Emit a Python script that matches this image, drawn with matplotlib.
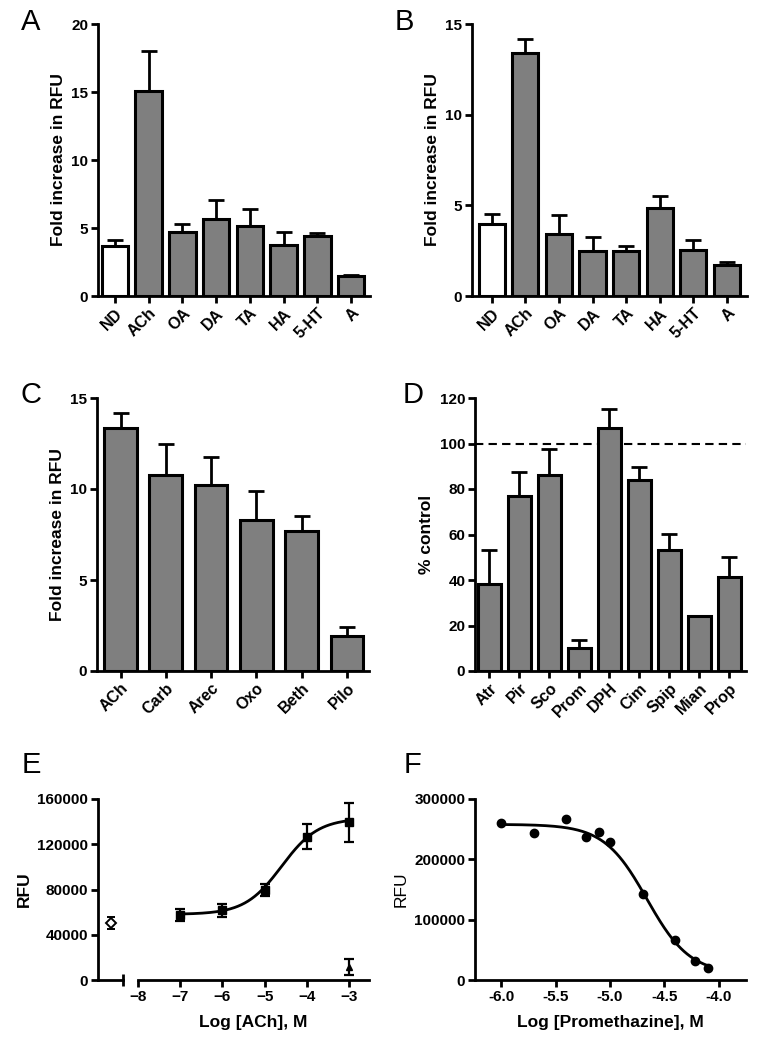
import numpy as np
import matplotlib
matplotlib.use("Agg")
import matplotlib.pyplot as plt

plt.rcParams["font.family"] = ["Liberation Sans", "DejaVu Sans"]
plt.rcParams["font.weight"] = "bold"
plt.rcParams["axes.linewidth"] = 2.0

# Panel A / B: agonist screen
amine_labels = ["ND", "ACh", "OA", "DA", "TA", "HA", "5-HT", "A"]
a_means = [3.68, 15.07, 4.71, 5.67, 5.13, 3.78, 4.44, 1.45]
a_errs = [0.47, 2.97, 0.57, 1.42, 1.25, 0.93, 0.17, 0.07]
b_means = [3.96, 13.42, 3.41, 2.48, 2.47, 4.84, 2.52, 1.69]
b_errs = [0.55, 0.75, 1.03, 0.78, 0.31, 0.68, 0.55, 0.17]

# Panel C: cholinergic agonists
agonist_labels = ["ACh", "Carb", "Arec", "Oxo", "Beth", "Pilo"]
c_means = [13.35, 10.78, 10.23, 8.27, 7.70, 1.94]
c_errs = [0.81, 1.67, 1.54, 1.63, 0.79, 0.48]

# Panel D: antagonists
antag_labels = ["Atr", "Pir", "Sco", "Prom", "DPH", "Cim", "Spip", "Mian", "Prop"]
d_means = [38.1, 77.0, 86.3, 10.3, 106.8, 84.1, 53.1, 24.2, 41.5]
d_errs = [15.0, 10.4, 11.4, 3.3, 8.2, 5.4, 7.3, 0.0, 8.7]

# Panel E: ACh dose response
e_logx = [-7, -6, -5, -4, -3]
e_rfu = [57400, 61600, 79900, 126700, 139400]
e_err = [5600, 5600, 5300, 11200, 17200]
e_tri_x = [-3]
e_tri_rfu = [11800]
e_tri_err = [7200]
e_nd_rfu = [50400]
e_nd_err = [5000]
e_fit = dict(bottom=58000, top=143000, logec50=-4.6, hill=1.0)

# Panel F: promethazine inhibition
f_logx = [-6.0, -5.7, -5.4, -5.22, -5.1, -5.0, -4.7, -4.4, -4.22, -4.1]
f_rfu = [259700, 244200, 266300, 237600, 245900, 228200, 142000, 66900, 30900, 19300]
f_fit = dict(bottom=10000, top=258000, logec50=-4.66, hill=-2.2)

W, H = 773, 1050
fig = plt.figure(figsize=(W / 100, H / 100), dpi=100)

TICK_FS = 11
LABEL_FS = 12.5


def px_axes(x0, x1, ytop, ybot):
    return fig.add_axes([x0 / W, 1 - ybot / H, (x1 - x0) / W, (ybot - ytop) / H])


def style(ax):
    for s in ["top", "right"]:
        ax.spines[s].set_visible(False)
    ax.tick_params(width=2.0, length=5, labelsize=TICK_FS, direction="out", pad=2)


def bar_panel(ax, labels, means, errs, ylim, yticks, xlim, width, ylabel, first_white=False):
    x = np.arange(len(labels))
    colors = ["#7f7f7f"] * len(labels)
    if first_white:
        colors[0] = "white"
    ax.bar(x, means, width=width, color=colors, edgecolor="black", linewidth=2.2, zorder=2)
    ax.errorbar(x, means, yerr=[np.zeros(len(errs)), errs], fmt="none", ecolor="black",
                elinewidth=2.0, capsize=6, capthick=2.0, zorder=1)
    ax.set_xlim(*xlim)
    ax.set_ylim(*ylim)
    ax.set_yticks(yticks)
    ax.set_xticks(x)
    style(ax)
    ax.set_xticklabels(labels, rotation=45, ha="right", rotation_mode="anchor", fontsize=11.5)
    ax.set_ylabel(ylabel, fontsize=LABEL_FS, fontweight="bold")


def logistic(x, p):
    return p["bottom"] + (p["top"] - p["bottom"]) / (1 + 10 ** ((p["logec50"] - x) * p["hill"]))


axA = px_axes(98, 370, 24, 296)
bar_panel(axA, amine_labels, a_means, a_errs, (0, 20), [0, 5, 10, 15, 20], (-0.5, 7.56), 0.78,
          "Fold increase in RFU", first_white=True)

axB = px_axes(472, 747, 24, 296)
bar_panel(axB, amine_labels, b_means, b_errs, (0, 15), [0, 5, 10, 15], (-0.59, 7.6), 0.78,
          "Fold increase in RFU", first_white=True)

axC = px_axes(97, 369, 398, 671)
bar_panel(axC, agonist_labels, c_means, c_errs, (0, 15), [0, 5, 10, 15], (-0.52, 5.49), 0.72,
          "Fold increase in RFU")

axD = px_axes(475, 746, 398, 671)
bar_panel(axD, antag_labels, d_means, d_errs, (0, 120), [0, 20, 40, 60, 80, 100, 120],
          (-0.48, 8.56), 0.76, "% control")
axD.axhline(100, color="black", linestyle=(0, (4, 2.5)), linewidth=1.5, zorder=0)

# Panel E: broken x axis
axE0 = px_axes(98, 123, 799, 980)
axE = px_axes(138, 369, 799, 980)
style(axE0)
style(axE)
axE0.errorbar([0], e_nd_rfu, yerr=e_nd_err, fmt="D", mfc="white", mec="black", mew=1.4,
              ms=5, ecolor="black", elinewidth=1.6, capsize=3, capthick=1.6, clip_on=False)
axE0.set_xlim(-1, 1)
axE0.set_ylim(0, 160000)
axE0.set_yticks([0, 40000, 80000, 120000, 160000])
axE0.set_xticks([1])
axE0.set_xticklabels([""])
axE0.tick_params(axis="x", direction="inout", length=8)
axE0.set_ylabel("RFU", fontsize=LABEL_FS, fontweight="bold")

axE.spines["left"].set_visible(False)
axE.set_yticks([])
axE.set_ylim(0, 160000)
axE.set_xlim(-8, -2.53)
xs = np.linspace(-7, -3, 200)
axE.plot(xs, logistic(xs, e_fit), color="black", linewidth=2.0)
axE.errorbar(e_logx, e_rfu, yerr=e_err, fmt="s", color="black", ms=5.5, ecolor="black",
             elinewidth=1.6, capsize=3.5, capthick=1.6, clip_on=False)
axE.errorbar(e_tri_x, e_tri_rfu, yerr=e_tri_err, fmt="^", color="black", ms=5, ecolor="black",
             elinewidth=1.6, capsize=3.5, capthick=1.6, clip_on=False)
axE.set_xticks([-8, -7, -6, -5, -4, -3])
axE.set_xticks([-8], minor=True)
axE.tick_params(axis="x", which="minor", direction="inout", length=8, width=2.0)
axE.set_xlabel("Log [ACh], M", fontsize=LABEL_FS, fontweight="bold", labelpad=8)

# Panel F
axF = px_axes(475, 746, 799, 980)
style(axF)
xs = np.linspace(-6.0, -4.1, 200)
axF.plot(xs, logistic(xs, f_fit), color="black", linewidth=2.0)
axF.plot(f_logx, f_rfu, "o", color="black", ms=6, clip_on=False)
axF.set_xlim(-6.24, -3.75)
axF.set_ylim(0, 300000)
axF.set_yticks([0, 100000, 200000, 300000])
axF.set_xticks([-6.0, -5.5, -5.0, -4.5, -4.0])
axF.set_xticklabels(["-6.0", "-5.5", "-5.0", "-4.5", "-4.0"])
axF.set_ylabel("RFU", fontsize=LABEL_FS, fontweight="normal")
axF.set_xlabel("Log [Promethazine], M", fontsize=LABEL_FS, fontweight="bold", labelpad=8)

# panel letters
for letter, (lx, ly) in {"A": (21, 8), "B": (395, 8), "C": (21, 381), "D": (403, 381),
                         "E": (22, 751), "F": (404, 751)}.items():
    fig.text(lx / W, 1 - ly / H, letter, fontsize=21, fontweight="normal", va="top", ha="left")

fig.savefig("out.png", dpi=100)
